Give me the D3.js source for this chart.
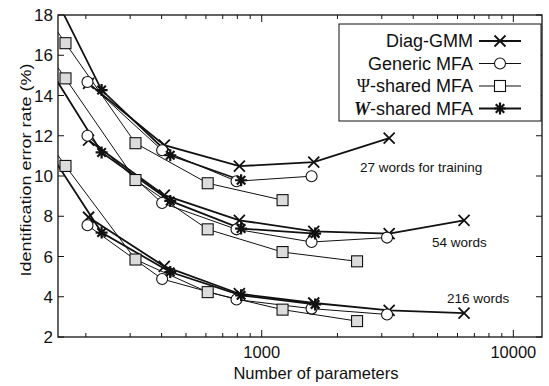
<!DOCTYPE html>
<html><head><meta charset="utf-8">
<script src="https://cdn.jsdelivr.net/npm/d3@7"></script>
<style>
body{margin:0;background:#fff;}
text{font-family:"Liberation Sans Narrow","Liberation Sans",Arial,sans-serif;fill:#111;}
.reg{font-family:"Liberation Sans",Arial,sans-serif;}
</style></head>
<body><svg id="c" width="549" height="386"></svg>
<script>
// ---- data ----
const groups = ["27 words for training", "54 words", "216 words"];
const seriesNames = ["Diag-GMM", "Generic MFA", "\u03A8-shared MFA", "W-shared MFA"];
// parameter counts (x) per series
const diagParams    = [205, 410, 815, 1610, 3210, 6370];
const genericParams = [203, 402, 794, 1578, 3148];
const psiParams     = [83, 166, 315, 610, 1210, 2393];
const wParams       = [121, 231, 433, 828, 1630];
// error rates (%) per group
const diag27 = [14.6, 11.53, 10.49, 10.69, 11.88];
const diag54 = [11.78, 9.05, 7.8, 7.25, 7.14, 7.8];
const diag216 = [7.95, 5.51, 4.15, 3.69, 3.32, 3.19];
const generic27 = [14.67, 11.28, 9.74, 9.99];
const generic54 = [12.0, 8.66, 7.35, 6.72, 6.94];
const generic216 = [7.55, 4.88, 3.86, 3.41, 3.12];
const psi27 = [22.0, 16.6, 11.63, 9.64, 8.8];
const psi54 = [20.2, 14.85, 9.8, 7.35, 6.22, 5.76];
const psi216 = [15.8, 10.5, 5.85, 4.23, 3.36, 2.79];
const w27 = [21.3, 14.27, 11.03, 9.79];
const w54 = [16.8, 11.17, 8.76, 7.39, 7.14];
const w216 = [12.6, 7.19, 5.23, 4.07, 3.62];
const yTicks = [2, 4, 6, 8, 10, 12, 14, 16, 18];
const xTickLabels = [1000, 10000];

// ---- layout ----
const L = 58, R = 542, T = 15, B = 337;
const svg = d3.select("#c");
const x = d3.scaleLog().domain([155, 13000]).range([L, R]);
const y = d3.scaleLinear().domain([2, 18]).range([B, T]);

svg.append("clipPath").attr("id", "clip").append("rect")
  .attr("x", L).attr("y", T).attr("width", R - L).attr("height", B - T);

// axes with inward ticks
const minorX = [];
[100, 1000, 10000].forEach(d => { for (let k = 2; k <= 9; k++) { const v = d * k; if (v > 155 && v < 13000) minorX.push(v); } });
const tickG = svg.append("g").attr("stroke", "#111").attr("stroke-width", 1);
[1000, 10000].forEach(v => {
  tickG.append("line").attr("x1", x(v)).attr("x2", x(v)).attr("y1", B).attr("y2", B - 7);
  tickG.append("line").attr("x1", x(v)).attr("x2", x(v)).attr("y1", T).attr("y2", T + 7);
});
minorX.forEach(v => {
  tickG.append("line").attr("x1", x(v)).attr("x2", x(v)).attr("y1", B).attr("y2", B - 4);
  tickG.append("line").attr("x1", x(v)).attr("x2", x(v)).attr("y1", T).attr("y2", T + 4);
});
yTicks.forEach(v => {
  tickG.append("line").attr("x1", L).attr("x2", L + 6).attr("y1", y(v)).attr("y2", y(v));
  tickG.append("line").attr("x1", R).attr("x2", R - 6).attr("y1", y(v)).attr("y2", y(v));
});

svg.append("g").selectAll("text").data(yTicks).join("text").attr("class", "reg")
  .attr("x", L - 5).attr("y", d => y(d) + 6).attr("text-anchor", "end")
  .attr("font-size", 17).text(d => d);
svg.append("g").selectAll("text").data(xTickLabels).join("text").attr("class", "reg")
  .attr("x", d => x(d)).attr("y", B + 21).attr("text-anchor", "middle")
  .attr("font-size", 16.5).text(d => d);

svg.append("text").attr("x", 316).attr("y", 379).attr("text-anchor", "middle")
  .attr("font-size", 16.5).text("Number of parameters");
svg.append("text").attr("class", "reg")
  .attr("transform", "translate(31,170) rotate(-90) scale(1,0.85)")
  .attr("text-anchor", "middle").attr("font-size", 18).text("Identification error rate (%)");

// ---- series ----
const styles = [
  {params: diagParams, data: [diag27, diag54, diag216], sw: 1.8, mark: "x"},
  {params: genericParams, data: [generic27, generic54, generic216], sw: 1.0, mark: "o"},
  {params: psiParams, data: [psi27, psi54, psi216], sw: 1.0, mark: "s"},
  {params: wParams, data: [w27, w54, w216], sw: 1.8, mark: "*"}
];

function drawMarker(g, type, cx, cy, legend) {
  if (type === "x") {
    g.append("path").attr("d", `M${cx-5.5},${cy-5.5}L${cx+5.5},${cy+5.5}M${cx-5.5},${cy+5.5}L${cx+5.5},${cy-5.5}`)
      .attr("stroke", "#111").attr("stroke-width", 1.8).attr("fill", "none");
  } else if (type === "o") {
    g.append("circle").attr("cx", cx).attr("cy", cy).attr("r", 5.5)
      .attr("fill", "#fff").attr("stroke", "#111").attr("stroke-width", 1.1);
  } else if (type === "s") {
    g.append("rect").attr("x", cx - 5.5).attr("y", cy - 5.5).attr("width", 11).attr("height", 11)
      .attr("fill", legend ? "#fff" : "#dcdcdc").attr("stroke", "#111").attr("stroke-width", 1.1);
  } else {
    let d = "";
    for (let k = 0; k < 4; k++) {
      const a = k * Math.PI / 4;
      const dx = 6 * Math.cos(a), dy = 6 * Math.sin(a);
      d += `M${cx-dx},${cy-dy}L${cx+dx},${cy+dy}`;
    }
    g.append("path").attr("d", d).attr("stroke", "#111").attr("stroke-width", 2.2).attr("fill", "none");
  }
}

const plotG = svg.append("g").attr("clip-path", "url(#clip)");
styles.forEach(s => {
  s.data.forEach(vals => {
    const pts = vals.map((v, i) => [x(s.params[i]), y(v)]);
    plotG.append("path").attr("d", d3.line()(pts))
      .attr("fill", "none").attr("stroke", "#111").attr("stroke-width", s.sw);
  });
});
styles.forEach(s => {
  s.data.forEach(vals => {
    vals.forEach((v, i) => drawMarker(plotG, s.mark, x(s.params[i]), y(v), false));
  });
});

// frame
svg.append("rect").attr("x", L).attr("y", T).attr("width", R - L).attr("height", B - T)
  .attr("fill", "none").attr("stroke", "#111").attr("stroke-width", 1.3);

// group labels
svg.append("text").attr("x", 360).attr("y", 172).attr("font-size", 13.5).text(groups[0]);
svg.append("text").attr("x", 432).attr("y", 247).attr("font-size", 13.5).text(groups[1]);
svg.append("text").attr("x", 447).attr("y", 303).attr("font-size", 13.5).text(groups[2]);

// legend
const lg = svg.append("g");
lg.append("rect").attr("x", 339).attr("y", 24).attr("width", 202).attr("height", 97)
  .attr("fill", "#fff").attr("stroke", "#111").attr("stroke-width", 1);
seriesNames.forEach((n, i) => {
  const cy = 41 + i * 22.5;
  const t = lg.append("text").attr("x", 473).attr("y", cy + 6).attr("text-anchor", "end").attr("font-size", 18);
  if (i === 3) {
    t.append("tspan").attr("font-style", "italic").attr("font-weight", "bold")
      .attr("font-family", "Liberation Serif, serif").text("W");
    t.append("tspan").text("-shared MFA");
  } else if (i === 2) {
    t.append("tspan").attr("font-family", "Liberation Serif, serif").text("\u03A8");
    t.append("tspan").text("-shared MFA");
  } else {
    t.text(n);
  }
  lg.append("line").attr("x1", 479).attr("x2", 521).attr("y1", cy).attr("y2", cy)
    .attr("stroke", "#111").attr("stroke-width", styles[i].sw);
  drawMarker(lg, styles[i].mark, 500, cy, true);
});
</script></body></html>
